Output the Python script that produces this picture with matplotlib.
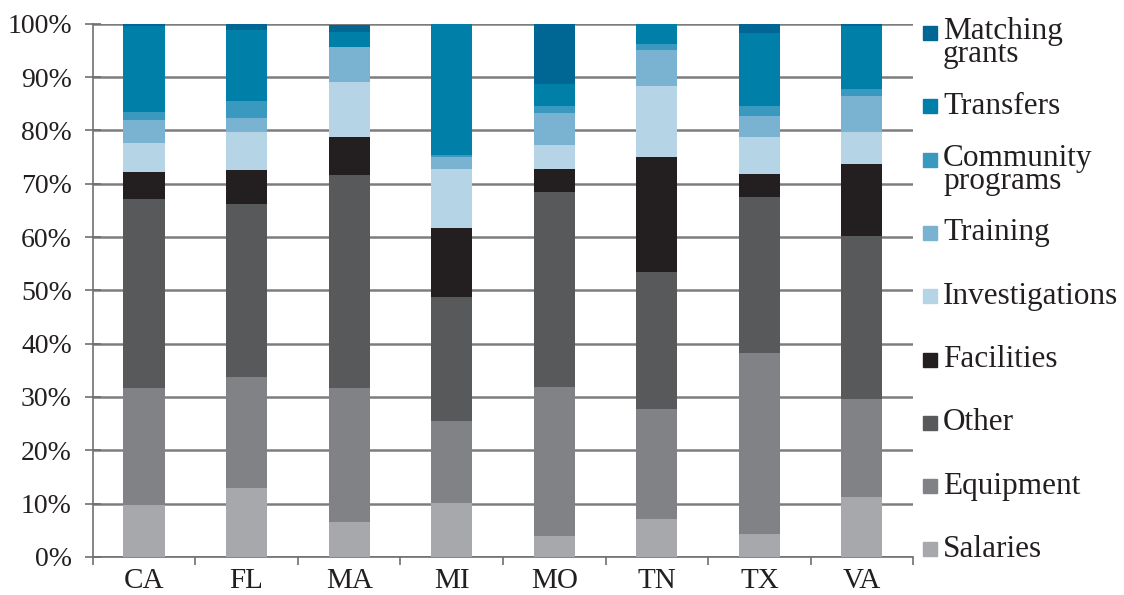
import numpy as np
import matplotlib
matplotlib.use("Agg")
import matplotlib.pyplot as plt
from matplotlib.patches import Rectangle

plt.rcParams['font.family'] = ['Liberation Serif', 'DejaVu Serif']

states = ["CA", "FL", "MA", "MI", "MO", "TN", "TX", "VA"]

# shares in percent, bottom to top of each bar
salaries = [9.8, 12.9, 6.6, 10.1, 3.9, 7.1, 4.3, 11.3]
equipment = [21.8, 20.9, 25.0, 15.4, 28.0, 20.7, 34.0, 18.3]
other = [35.6, 32.4, 40.1, 23.3, 36.6, 25.7, 29.2, 30.6]
facilities = [5.0, 6.4, 7.1, 12.9, 4.3, 21.5, 4.4, 13.5]
investigations = [5.5, 7.1, 10.3, 11.1, 4.5, 13.4, 6.9, 6.0]
training = [4.3, 2.7, 6.6, 2.2, 6.0, 6.7, 3.9, 6.8]
community = [1.5, 3.2, 0.0, 0.4, 1.3, 1.1, 1.9, 1.3]
transfers = [16.0, 13.3, 2.8, 24.6, 4.1, 3.8, 13.7, 11.8]
matching = [0.5, 1.1, 1.3, 0.0, 11.3, 0.0, 1.7, 0.4]

series = [
    ("Salaries", salaries, "#a7a8ab"),
    ("Equipment", equipment, "#818285"),
    ("Other", other, "#58595b"),
    ("Facilities", facilities, "#231f20"),
    ("Investigations", investigations, "#b5d5e6"),
    ("Training", training, "#7ab3d1"),
    ("Community\nprograms", community, "#3a99be"),
    ("Transfers", transfers, "#0080a8"),
    ("Matching\ngrants", matching, "#006794"),
]

fig = plt.figure(figsize=(11.24, 5.95), dpi=100)
ax = fig.add_axes([0.0825, 0.064, 0.730, 0.896])

x = np.arange(len(states))
bottom = np.zeros(len(states))
for name, vals, col in series:
    vals = np.array(vals)
    ax.bar(x, vals, width=0.4, bottom=bottom, color=col, zorder=3)
    bottom += vals

ax.set_xlim(-0.5, len(states) - 0.5)
ax.set_ylim(0, 100)
ax.set_yticks(np.arange(0, 101, 10))
ax.set_yticklabels([f"{v}%" for v in range(0, 101, 10)])
ax.set_xticks(x)
ax.set_xticklabels(states)
ax.set_xticks(np.arange(-0.5, len(states)), minor=True)

ax.yaxis.grid(True, color="#7d7d7d", lw=1.8, zorder=0)
for s in ["top", "right"]:
    ax.spines[s].set_visible(False)
ax.spines["left"].set_color("#6f6f6f")
ax.spines["bottom"].set_color("#6f6f6f")
ax.spines["left"].set_linewidth(1.2)
ax.spines["bottom"].set_linewidth(1.2)

ax.tick_params(axis="y", direction="inout", length=12, width=1.2, color="#6f6f6f",
               labelsize=20, pad=9, labelcolor="#231f20")
ax.tick_params(axis="x", which="major", length=0, labelsize=21, pad=8, labelcolor="#231f20")
ax.tick_params(axis="x", which="minor", direction="out", length=6, width=1.2, color="#6f6f6f")

# legend drawn by hand so every entry gets the same spacing
H = 595.0
top_px, step_px = 43.0, 63.3
for i, (name, vals, col) in enumerate(reversed(series)):
    yc = top_px + i * step_px
    sq_y = yc - 10 if "\n" in name else yc
    fig.patches.append(Rectangle((923 / 1124, 1 - (sq_y + 7) / H), 14 / 1124, 14 / H,
                                 transform=fig.transFigure, color=col))
    fig.text(943 / 1124, 1 - yc / H, name, fontsize=22.5, va="center", ha="left",
             linespacing=0.72, color="#231f20")

fig.savefig("out.png", dpi=100)
